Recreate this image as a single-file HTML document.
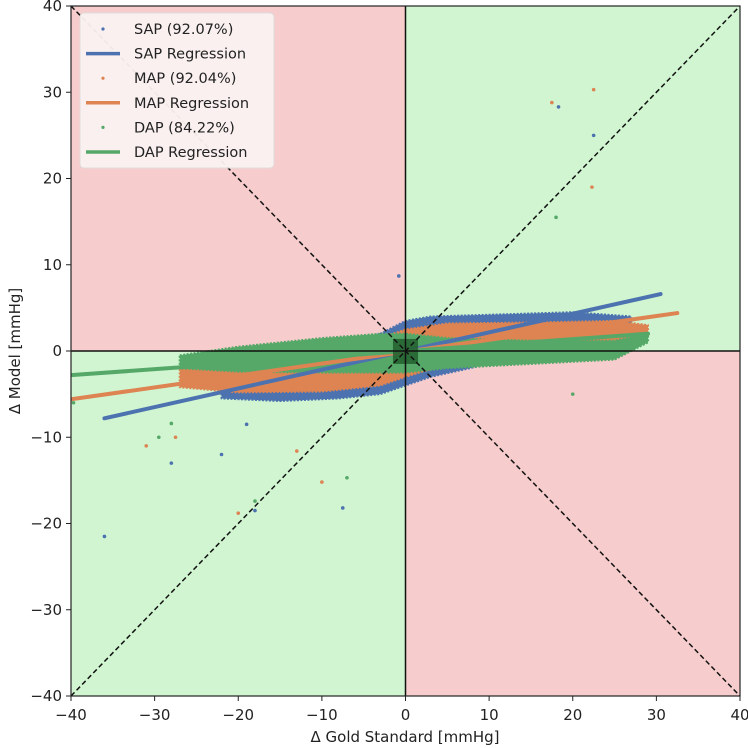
<!DOCTYPE html>
<html><head><meta charset="utf-8"><style>
body{margin:0;background:#fff;}
svg{display:block;font-family:"DejaVu Sans","Liberation Sans",sans-serif;}
</style></head><body>
<svg id="chart" width="748" height="748" viewBox="0 0 748 748">
<defs><clipPath id="clip"><rect x="71" y="6" width="669" height="690"/></clipPath></defs>
<g id="plot" clip-path="url(#clip)"></g>
<g id="axes"></g>
</svg>
<script>
const sapEnvX=[-22,-15,-8,-3,0,3,10,20,27];
const sapLo=[-5.5,-5.8,-5.5,-5,-4,-3,-1.5,-0.5,1];
const sapHi=[-3,-1.5,0.5,2,3.5,4,4.2,4.5,4];
const mapEnvX=[-27,-20,-10,-3,0,5,15,25,29];
const mapLo=[-4.2,-4.8,-4.7,-4,-3,-1.5,-0.5,0.5,1.5];
const mapHi=[-2,-1,0,1.5,2.5,3.2,3.3,3.5,3];
const dapEnvX=[-27,-20,-10,-3,0,5,15,25,29];
const dapLo=[-2,-2.4,-2.5,-2.5,-2.5,-2,-1.5,-1,1];
const dapHi=[-0.5,0.5,1.5,2,2,1.5,1.2,1.2,2];
const sapOutX=[-36,-28,-22,-18,-7.5,18.3,22.5,-0.8,-19];
const sapOutY=[-21.5,-13,-12,-18.5,-18.2,28.3,25,8.7,-8.5];
const mapOutX=[22.5,22.3,-31,-27.5,-10,-20,-13,17.5];
const mapOutY=[30.3,19,-11,-10,-15.2,-18.8,-11.6,28.8];
const dapOutX=[18,-29.5,-39.7,-18,-7,20,-28];
const dapOutY=[15.5,-10,-6,-17.4,-14.7,-5,-8.4];
const sapReg=[[-36,-7.8],[30.5,6.6]];
const mapReg=[[-40,-5.6],[32.5,4.4]];
const dapReg=[[-40,-2.8],[29,2]];
const ticks=[-40,-30,-20,-10,0,10,20,30,40];
const legendLabels=["SAP (92.07%)","SAP Regression","MAP (92.04%)","MAP Regression","DAP (84.22%)","DAP Regression"];

const NS="http://www.w3.org/2000/svg";
const X=v=>71+(v+40)*669/80;
const Y=v=>696-(v+40)*690/80;
const plot=document.getElementById('plot'), axes=document.getElementById('axes');
function mk(tag,attrs,parent){const e=document.createElementNS(NS,tag);for(const k in attrs)e.setAttribute(k,attrs[k]);parent.appendChild(e);return e;}

let r;
r=mk('rect',{x:X(-40),y:Y(40),width:X(0)-X(-40),height:Y(0)-Y(40),fill:'#f6cccc'},plot);

r=mk('rect',{x:X(0),y:Y(0),width:X(40)-X(0),height:Y(-40)-Y(0),fill:'#f6cccc'},plot);

r=mk('rect',{x:X(0),y:Y(40),width:X(40)-X(0),height:Y(0)-Y(40),fill:'#d0f5d0'},plot);

r=mk('rect',{x:X(-40),y:Y(0),width:X(0)-X(-40),height:Y(-40)-Y(0),fill:'#d0f5d0'},plot);


function cloud(xs,lo,hi,col,name){
  let pts=xs.map((x,i)=>X(x)+','+Y(hi[i]));
  for(let i=xs.length-1;i>=0;i--)pts.push(X(xs[i])+','+Y(lo[i]));
  const p=mk('polygon',{points:pts.join(' '),fill:col,stroke:col,'stroke-width':2,'stroke-linejoin':'round','stroke-dasharray':'2,1.5'},plot);
  
  
}
function outliers(xs,ys,col,name){
  xs.forEach((x,i)=>{const c=mk('circle',{cx:X(x),cy:Y(ys[i]),r:1.8,fill:col},plot);
  
  });
}
function reg(seg,col,name){
  const l=mk('line',{x1:X(seg[0][0]),y1:Y(seg[0][1]),x2:X(seg[1][0]),y2:Y(seg[1][1]),stroke:col,'stroke-width':4,'stroke-linecap':'round'},plot);
  
  
}
const B='#4c72b0',O='#dd8452',G='#55a868';
cloud(sapEnvX,sapLo,sapHi,B,'sap-cloud');outliers(sapOutX,sapOutY,B,'sap-point');
cloud(mapEnvX,mapLo,mapHi,O,'map-cloud');outliers(mapOutX,mapOutY,O,'map-point');
cloud(dapEnvX,dapLo,dapHi,G,'dap-cloud');outliers(dapOutX,dapOutY,G,'dap-point');
reg(sapReg,B,'sap-regression');reg(mapReg,O,'map-regression');reg(dapReg,G,'dap-regression');

r=mk('rect',{x:X(-1.5),y:Y(1.4),width:X(1.5)-X(-1.5),height:Y(-1.5)-Y(1.4),fill:'#1f5a2a',opacity:0.8},plot);

let l;
l=mk('line',{x1:X(-40),y1:Y(-40),x2:X(40),y2:Y(40),stroke:'#111','stroke-width':1.5,'stroke-dasharray':'5,3'},plot);

l=mk('line',{x1:X(-40),y1:Y(40),x2:X(40),y2:Y(-40),stroke:'#111','stroke-width':1.5,'stroke-dasharray':'5,3'},plot);

l=mk('line',{x1:X(-40),y1:Y(0),x2:X(40),y2:Y(0),stroke:'#111','stroke-width':1.5},plot);

l=mk('line',{x1:X(0),y1:Y(40),x2:X(0),y2:Y(-40),stroke:'#111','stroke-width':1.5},plot);


r=mk('rect',{x:X(-40),y:Y(40),width:669,height:690,fill:'none',stroke:'#222','stroke-width':1.2},axes);

ticks.forEach(t=>{
  let a=mk('line',{x1:X(t),y1:696,x2:X(t),y2:701,stroke:'#222','stroke-width':1},axes);
  
  let tx=mk('text',{x:X(t),y:720,'text-anchor':'middle','font-size':15,fill:'#222'},axes);
  tx.textContent=(t<0?'\u2212'+(-t):t);
  
  let b=mk('line',{x1:66,y1:Y(t),x2:71,y2:Y(t),stroke:'#222','stroke-width':1},axes);
  
  let ty=mk('text',{x:62,y:Y(t)+5,'text-anchor':'end','font-size':15,fill:'#222'},axes);
  ty.textContent=(t<0?'\u2212'+(-t):t);
  
});
let xt=mk('text',{x:405,y:742,'text-anchor':'middle','font-size':15,fill:'#222'},axes);
xt.textContent='\u0394 Gold Standard [mmHg]';

let yt=mk('text',{x:0,y:0,'text-anchor':'middle','font-size':15,fill:'#222',transform:'translate(20,351) rotate(-90)'},axes);
yt.textContent='\u0394 Model [mmHg]';


const lg=mk('g',{},axes);

mk('rect',{x:80,y:13,width:194,height:155,rx:4,fill:'#fbf2f2',stroke:'#ddd','stroke-width':1,opacity:0.95},lg);
const lcols=[B,B,O,O,G,G];
legendLabels.forEach((s,i)=>{
  const cy=29+i*24.6;
  if(i%2===0){const c=mk('circle',{cx:103,cy:cy,r:1.6,fill:lcols[i]},lg);
    }
  else{const ln=mk('line',{x1:86,y1:cy,x2:120,y2:cy,stroke:lcols[i],'stroke-width':3.5},lg);
    }
  const t=mk('text',{x:134,y:cy+5,'font-size':14.5,fill:'#222'},lg);
  t.textContent=s;
  
});
</script>
</body></html>
